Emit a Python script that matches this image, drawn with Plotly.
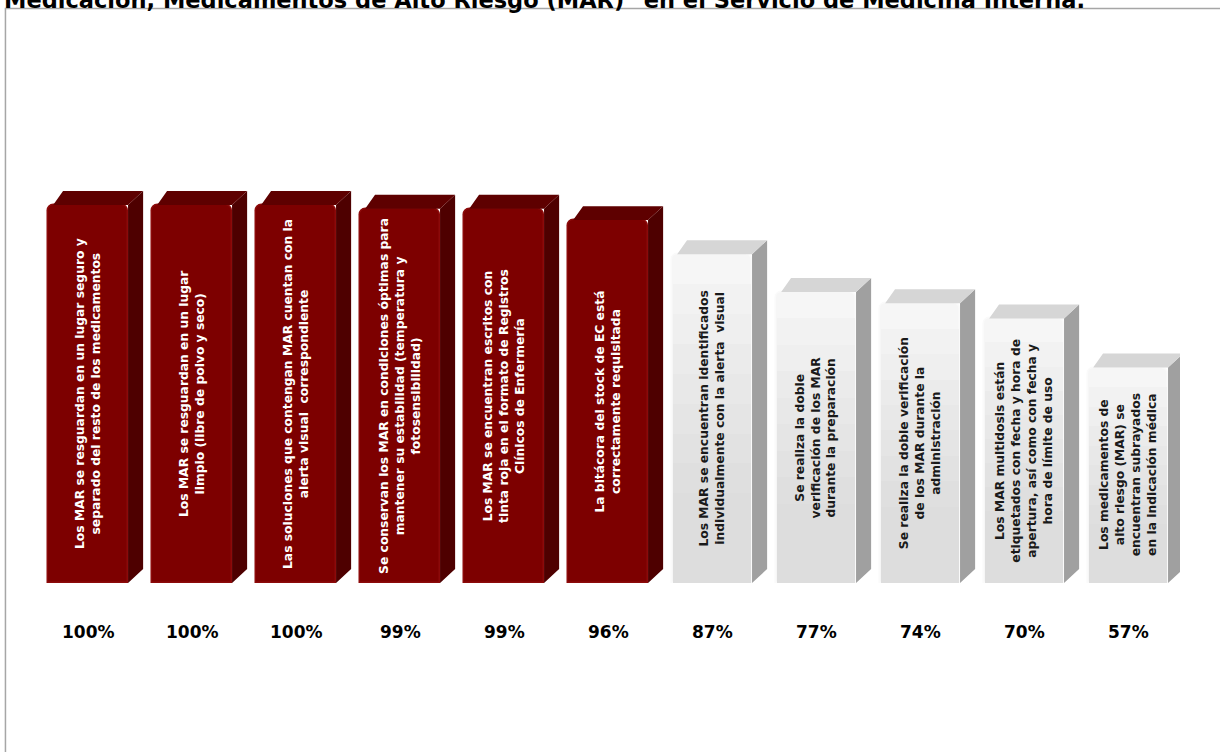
import plotly.graph_objects as go

# Datos
indicadores = [
    "Los MAR se resguardan en un lugar seguro y<br>separado del resto de los medicamentos",
    "Los MAR se resguardan en un lugar<br>limpio (libre de polvo y seco)",
    "Las soluciones que contengan MAR cuentan con la<br>alerta visual  correspondiente",
    "Se conservan los MAR en condiciones óptimas para<br>mantener su estabilidad (temperatura y<br>fotosensibilidad)",
    "Los MAR se encuentran escritos con<br>tinta roja en el formato de Registros<br>Clínicos de Enfermería",
    "La bitácora del stock de EC está<br>correctamente requisitada",
    "Los MAR se encuentran identificados<br>individualmente con la alerta  visual",
    "Se realiza la doble<br>verificación de los MAR<br>durante la preparación",
    "Se realiza la doble verificación<br>de los MAR durante la<br>administración",
    "Los MAR multidosis están<br>etiquetados con fecha y hora de<br>apertura, así como con fecha y<br>hora de límite de uso",
    "Los medicamentos de<br>alto riesgo (MAR) se<br>encuentran subrayados<br>en la indicación médica",
]
porcentajes = [100, 100, 100, 99, 99, 96, 87, 77, 74, 70, 57]
etiquetas = ["100%", "100%", "100%", "99%", "99%", "96%", "87%", "77%", "74%", "70%", "57%"]
titulo = 'Medicación, Medicamentos de Alto Riesgo (MAR)" en el Servicio de Medicina Interna.'

# Estilo
umbral = 90
rojo = {"front": "#7d0000", "side": "#4e0000", "top": "#5e0000", "line": "#8c0a0a", "text": "white"}
gris = {"front": "#f6f6f6", "side": "#a0a0a0", "top": "#d6d6d6", "line": "#fafafa", "text": "#1a1a1a"}
degradado_gris = ["#f2f2f2", "#efefef", "#ebebeb", "#e8e8e8", "#e5e5e5", "#e2e2e2", "#dfdfdf", "#dddddd"]
w = 0.77      # ancho de la cara frontal
dx = 0.145    # profundidad en x
dy = 3.7      # profundidad en y
ymax = 143.65
fuente = "DejaVu Sans"

x = list(range(len(porcentajes)))
estilos = [rojo if v >= umbral else gris for v in porcentajes]

fig = go.Figure()

# cara frontal
fig.add_trace(go.Bar(
    x=x, y=porcentajes, width=w,
    marker=dict(color=[e["front"] for e in estilos], cornerradius=7,
                line=dict(width=1.5, color=[e["line"] for e in estilos])),
    hoverinfo="skip", showlegend=False,
))

# degradado de las barras grises (de arriba hacia abajo)
xg = [i for i in x if estilos[i] is gris]
vg = [porcentajes[i] for i in xg]
n = len(degradado_gris)
for k, col in enumerate(degradado_gris):
    frac = 1 - (k + 1) / (n + 3)
    fig.add_trace(go.Bar(x=xg, y=[v * frac for v in vg], width=w - 0.02,
                         marker=dict(color=col, line=dict(width=0)),
                         hoverinfo="skip", showlegend=False))

# caras lateral y superior
for grupo in (rojo, gris):
    sx, sy, tx, ty = [], [], [], []
    for i, v in enumerate(porcentajes):
        if estilos[i] is not grupo:
            continue
        xl, xr = i - w / 2, i + w / 2
        sx += [xr, xr + dx, xr + dx, xr, xr, None]
        sy += [0, dy, v + dy, v, 0, None]
        tx += [xl + 0.05, xl + dx, xr + dx, xr, xl + 0.05, None]
        ty += [v, v + dy, v + dy, v, v, None]
    fig.add_trace(go.Scatter(x=sx, y=sy, fill="toself", fillcolor=grupo["side"],
                             mode="none", hoverinfo="skip", showlegend=False))
    fig.add_trace(go.Scatter(x=tx, y=ty, fill="toself", fillcolor=grupo["top"],
                             mode="none", hoverinfo="skip", showlegend=False))

# textos verticales dentro de las barras
for i, (txt, v) in enumerate(zip(indicadores, porcentajes)):
    fig.add_annotation(x=i, y=v / 2, text=txt, textangle=-90, showarrow=False,
                       xref="x", yref="y",
                       font=dict(family=fuente, size=12.3, weight="bold",
                                 color=estilos[i]["text"]))

# porcentajes debajo
for i, lab in enumerate(etiquetas):
    fig.add_annotation(x=i, y=-13 / ymax, text=lab, showarrow=False,
                       xref="x", yref="paper", yanchor="middle",
                       font=dict(family=fuente, size=17, weight="bold", color="black"))

# titulo (cortado en la parte superior)
fig.add_annotation(x=0.919, y=1.074, xref="paper", yref="paper", text=titulo,
                   showarrow=False, xanchor="right", yanchor="middle",
                   font=dict(family=fuente, size=22.5, weight="bold", color="black"))

# marco
fig.add_shape(type="rect", xref="paper", yref="paper",
              x0=-0.0267, y0=-0.5, x1=1.2, y1=1.058,
              line=dict(color="#a6a6a6", width=1.5), layer="below")

fig.update_layout(
    width=1220, height=752,
    margin=dict(l=36, r=40, t=40, b=169),
    paper_bgcolor="white", plot_bgcolor="white",
    xaxis=dict(range=[-0.5, 10.5], visible=False),
    yaxis=dict(range=[0, ymax], visible=False),
    barmode="overlay", bargap=0,
)

fig.write_html("out.html", config={"displayModeBar": False},
               post_script="document.body.style.margin='0';")
